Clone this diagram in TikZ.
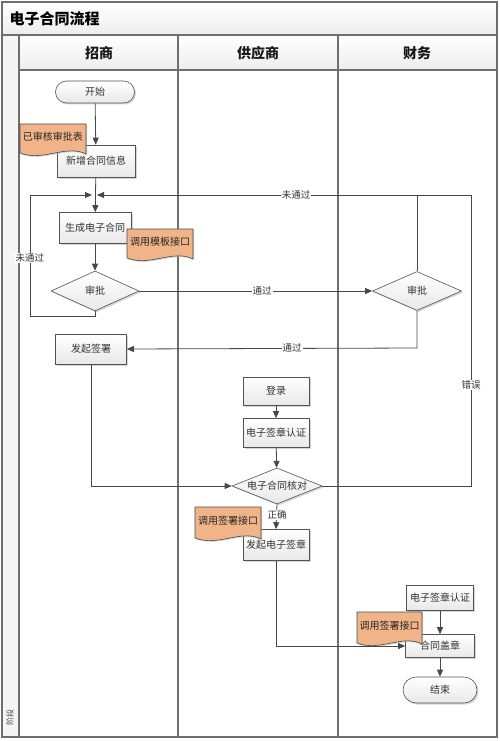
\documentclass[tikz,border=0pt]{standalone}
\usepackage{fontspec}
\setmainfont{Noto Sans CJK SC}
\usetikzlibrary{shapes.geometric,shapes.misc,shadows,arrows.meta}
\definecolor{ln}{HTML}{474747}
\definecolor{docfill}{HTML}{F0B488}
\definecolor{framec}{HTML}{6E6E6E}
\newcommand\docshape[6]{%
  \filldraw[fill=docfill,draw=gray!60!black,line width=0.6pt,
    drop shadow={shadow xshift=1.2pt,shadow yshift=-1.2pt,fill=gray!70}]
    (#2,#3) -- (#4,#3) -- (#4,#5-1)
    .. controls ({#4-0.3*(#4-#2)},{#5-11}) and ({#2+0.35*(#4-#2)},{#5+7}) .. (#2,#5-2) -- cycle;
  \node[doctext] (#1) at ({(#2+#4)/2},{#3+(#5-#3)*0.42}) {#6};}
\begin{document}
\begin{tikzpicture}[x=1pt,y=-1pt,
  box/.style={draw=gray!65!black,line width=0.6pt,top color=white,bottom color=gray!18,
    drop shadow={shadow xshift=1.5pt,shadow yshift=-1.5pt,fill=gray!65},
    font=\fontsize{10}{12}\selectfont,text=black!80,inner sep=0pt},
  term/.style={box,rounded rectangle},
  dec/.style={box,diamond,aspect=2.4},
  doctext/.style={font=\fontsize{10}{12}\selectfont,text=black!85,inner sep=0pt},
  conn/.style={draw=ln,line width=0.8pt},
  arr/.style={conn,-{Triangle[length=7pt,width=6pt]}},
  lbl/.style={fill=white,inner sep=1pt,font=\fontsize{9.5}{11}\selectfont,text=black!80},
  hdr/.style={font=\bfseries\fontsize{14}{16}\selectfont,text=black!90}]
\useasboundingbox (0,0) rectangle (499,741);
% frame
\shade[top color=white,bottom color=gray!14] (2,2) rectangle (497,35);
\shade[top color=white,bottom color=gray!14] (19,35) rectangle (497,70);
\fill[gray!8] (2,35) rectangle (19,737);
\draw[framec,line width=1.2pt] (2,2) rectangle (497,737);
\draw[framec,line width=1.2pt] (2,35) -- (497,35);
\draw[framec,line width=1.2pt] (19,70) -- (497,70);
\draw[framec,line width=1.2pt] (19,35) -- (19,737);
\draw[framec,line width=1.2pt] (178,35) -- (178,737);
\draw[framec,line width=1.2pt] (338,35) -- (338,737);
\node[anchor=west,font=\bfseries\fontsize{15}{18}\selectfont] (title) at (6,19) {电子合同流程};
\node[hdr] (h1) at (99,53) {招商};
\node[hdr] (h2) at (258,53) {供应商};
\node[hdr] (h3) at (417,53) {财务};
\node[rotate=90,font=\fontsize{8}{9}\selectfont,text=black!70] (phase) at (10,717) {阶段};
% nodes
\node[term,minimum width=79pt,minimum height=22pt] (start) at (95,92) {开始};
\node[box,minimum width=78pt,minimum height=32pt] (n1) at (96,161) {新增合同信息};
\node[box,minimum width=72pt,minimum height=31pt] (n2) at (95,228) {生成电子合同};
\node[dec,minimum width=88pt,minimum height=40pt] (d1) at (95,291) {审批};
\node[dec,minimum width=89pt,minimum height=39pt] (d2) at (417,291) {审批};
\node[box,minimum width=71pt,minimum height=30pt] (n3) at (91,349) {发起签署};
\node[box,minimum width=66pt,minimum height=28pt] (n4) at (276,391) {登录};
\node[box,minimum width=66pt,minimum height=29pt] (n5) at (276,433) {电子签章认证};
\node[dec,minimum width=90pt,minimum height=36pt] (d3) at (277,486) {电子合同核对};
\node[box,minimum width=66pt,minimum height=31pt] (n6) at (276,545) {发起电子签章};
\node[box,minimum width=67pt,minimum height=25pt] (n7) at (440,598) {电子签章认证};
\node[box,minimum width=69pt,minimum height=23pt] (n8) at (440,646) {合同盖章};
\node[term,minimum width=74pt,minimum height=26pt] (end) at (440,690) {结束};
% documents
\docshape{doc1}{20}{124}{86}{155}{已审核审批表}
\docshape{doc2}{127}{229}{193}{260}{调用模板接口}
\docshape{doc3}{195}{507}{261}{540}{调用签署接口}
\docshape{doc4}{357}{612}{422}{645}{调用签署接口}
% coordinates
\coordinate (jl) at (92,195);
\coordinate (jr) at (97,195);
\coordinate (lb) at (95,316);
\coordinate (lbl1) at (30,316);
\coordinate (ltl) at (30,195);
\coordinate (d2t) at (417,195);
\coordinate (er1) at (471,486);
\coordinate (er2) at (471,195);
\coordinate (d2b) at (417,348);
\coordinate (n3b) at (91,486);
\coordinate (n6b) at (276,646);
% connectors
\draw[arr] (start) -- (n1);
\draw[arr] (n1) -- (n2);
\draw[arr] (n2) -- (d1);
\draw[arr] (d1.south) -- (lb) -- (lbl1) -- (ltl) -- (jl);
\node[lbl] (t1) at (30,258) {未通过};
\draw[arr] (d1.east) -- (d2.west);
\node[lbl] (t2) at (262,291) {通过};
\draw[conn] (d2.north) -- (d2t);
\draw[arr] (d3.east) -- (er1) -- (er2) -- (jr);
\node[lbl] (t3) at (296,195) {未通过};
\node[lbl] (t4) at (471,385) {错误};
\draw[arr] (d2.south) -- (d2b) -- (n3.east);
\node[lbl] (t5) at (292,348) {通过};
\draw[arr] (n3.south) -- (n3b) -- (d3.west);
\draw[arr] (n4) -- (n5);
\draw[arr] (n5) -- (d3);
\draw[arr] (d3.south) -- (n6.north);
\node[lbl] (t6) at (277,515) {正确};
\draw[arr] (n6.south) -- (n6b) -- (n8.west);
\draw[arr] (n7) -- (n8);
\draw[arr] (n8) -- (end);
\end{tikzpicture}
\end{document}
